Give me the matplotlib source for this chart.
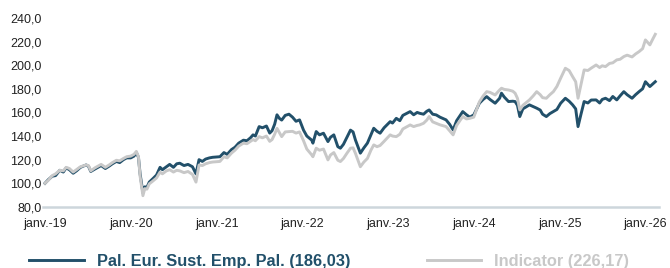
import matplotlib
matplotlib.use("Agg")
import matplotlib.pyplot as plt
import pandas as pd

plt.rcParams['font.family'] = ['Liberation Sans', 'DejaVu Sans']

FUND_NAME = "Pal. Eur. Sust. Emp. Pal. (186,03)"
INDEX_NAME = "Indicator (226,17)"
FUND_COLOR = "#22506a"
INDEX_COLOR = "#c8c8c8"

dates = [
    "2019-01-01", "2019-01-15", "2019-02-01", "2019-02-15", "2019-03-05", "2019-03-20",
    "2019-04-01", "2019-04-15", "2019-05-01", "2019-05-15", "2019-06-01", "2019-06-25",
    "2019-07-05", "2019-07-15", "2019-08-01", "2019-08-28", "2019-09-15", "2019-10-01",
    "2019-10-15", "2019-11-01", "2019-11-15", "2019-12-01", "2019-12-15", "2020-01-01",
    "2020-01-15", "2020-01-25", "2020-02-03", "2020-02-10", "2020-02-22", "2020-03-01",
    "2020-03-10", "2020-03-20", "2020-04-05", "2020-04-20", "2020-05-05", "2020-05-15",
    "2020-06-01", "2020-06-15", "2020-07-01", "2020-07-15", "2020-07-28", "2020-08-15",
    "2020-09-01", "2020-09-20", "2020-10-05", "2020-10-18", "2020-11-01", "2020-11-15",
    "2020-12-01", "2020-12-15", "2021-01-15", "2021-02-01", "2021-02-15", "2021-03-05",
    "2021-03-20", "2021-04-05", "2021-04-25", "2021-05-10", "2021-05-25", "2021-06-05",
    "2021-06-15", "2021-07-01", "2021-07-15", "2021-08-01", "2021-08-15", "2021-08-25",
    "2021-09-05", "2021-09-15", "2021-09-25", "2021-10-05", "2021-10-20", "2021-11-05",
    "2021-11-20", "2021-12-05", "2021-12-20", "2022-01-06", "2022-01-20", "2022-02-10",
    "2022-02-15", "2022-03-01", "2022-03-15", "2022-04-01", "2022-04-20", "2022-05-01",
    "2022-05-15", "2022-06-01", "2022-06-12", "2022-06-25", "2022-07-10", "2022-07-25",
    "2022-08-05", "2022-08-15", "2022-09-05", "2022-09-20", "2022-10-05", "2022-10-20",
    "2022-11-01", "2022-11-15", "2022-11-28", "2022-12-15", "2023-01-10", "2023-01-20",
    "2023-02-05", "2023-02-20", "2023-03-05", "2023-04-05", "2023-04-20", "2023-05-05",
    "2023-05-15", "2023-06-01", "2023-06-15", "2023-06-25", "2023-07-10", "2023-07-25",
    "2023-08-10", "2023-09-05", "2023-09-20", "2023-10-05", "2023-10-20", "2023-11-15",
    "2023-12-01", "2023-12-15", "2024-01-01", "2024-01-25", "2024-02-10", "2024-02-25",
    "2024-03-10", "2024-04-01", "2024-04-20", "2024-04-28", "2024-05-10", "2024-05-28",
    "2024-06-15", "2024-06-25", "2024-07-05", "2024-07-15", "2024-07-28", "2024-08-25",
    "2024-09-10", "2024-09-25", "2024-10-10", "2024-10-20", "2024-11-05", "2024-11-20",
    "2024-12-05", "2024-12-20", "2025-01-05", "2025-01-25", "2025-02-10", "2025-02-25",
    "2025-03-10", "2025-03-20", "2025-04-01", "2025-04-15", "2025-05-01", "2025-05-15",
    "2025-06-05", "2025-06-20", "2025-07-01", "2025-07-15", "2025-08-01", "2025-08-15",
    "2025-09-01", "2025-09-15", "2025-10-01", "2025-10-15", "2025-11-05", "2025-11-20",
    "2025-12-05", "2025-12-20", "2026-01-01", "2026-01-20", "2026-02-01", "2026-02-12",
]

fund = [
    100.0, 103.0, 106.0, 106.5, 111.0, 109.5,
    113.0, 111.5, 108.5, 110.5, 113.5, 115.5,
    114.5, 110.0, 112.0, 115.0, 112.5, 114.5,
    116.5, 118.5, 117.5, 120.0, 121.5, 121.5,
    123.0, 126.0, 122.0, 108.0, 92.0, 97.0,
    96.5, 101.0, 104.0, 107.0, 113.5, 111.5,
    114.0, 116.0, 113.5, 116.5, 117.0, 115.0,
    116.0, 114.0, 108.0, 120.0, 118.5, 120.5,
    121.5, 122.0, 122.5, 126.0, 124.5, 128.5,
    130.5, 134.0, 136.5, 136.0, 138.5, 141.0,
    140.0, 148.0, 147.0, 148.5, 142.5, 144.5,
    150.0, 158.0, 155.0, 153.5, 157.5, 158.5,
    156.0, 152.5, 153.7, 145.0, 140.0, 136.5,
    134.0, 143.8, 141.0, 142.4, 135.3, 139.0,
    141.0, 131.0, 129.7, 133.0, 139.0, 145.0,
    143.5, 136.7, 125.5, 130.0, 134.0, 141.0,
    146.6, 144.0, 142.4, 147.0, 152.2, 151.0,
    155.0, 153.0, 157.5, 160.7, 158.0, 160.0,
    159.3, 158.5, 161.0, 162.1, 158.5, 157.9,
    156.0, 153.7, 150.0, 145.2, 153.0, 160.7,
    158.0, 156.0, 157.9, 167.8, 171.0, 173.4,
    171.0, 167.8, 172.0, 176.3, 173.0, 169.2,
    169.5, 169.2, 166.0, 156.5, 163.0, 166.4,
    165.0, 163.6, 162.0, 158.5, 156.5, 159.0,
    160.7, 162.5, 167.8, 172.0, 169.5, 166.4,
    163.0, 148.0, 158.0, 169.2, 168.0, 170.5,
    170.6, 168.0, 171.0, 172.0, 170.0, 173.5,
    170.6, 174.0, 177.6, 175.0, 172.0, 175.0,
    177.6, 180.0, 186.0, 181.9, 184.0, 186.03,
]

indicator = [
    100.0, 102.5, 106.5, 108.0, 111.0, 110.5,
    113.5, 112.5, 109.5, 111.5, 114.0, 115.5,
    115.0, 110.5, 113.0, 116.0, 113.5, 115.5,
    117.5, 119.5, 119.0, 121.0, 122.5, 123.0,
    124.5, 127.0, 122.5, 106.0, 89.5, 95.5,
    95.0, 99.5, 102.0, 104.5, 109.5, 108.0,
    110.5, 111.5, 109.5, 111.0, 110.5, 109.0,
    110.0, 107.5, 101.0, 115.5, 115.0, 116.5,
    117.5, 118.0, 118.5, 122.5, 121.5, 125.5,
    128.0, 131.5, 134.0, 133.5, 135.5, 137.0,
    136.0, 139.5, 138.5, 140.0, 135.5, 137.0,
    141.5, 146.5, 143.0, 139.5, 143.5, 143.8,
    144.0, 142.5, 143.5, 136.0, 129.0, 124.0,
    122.5, 129.7, 128.0, 129.0, 119.8, 124.0,
    126.0, 119.5, 118.4, 121.0, 125.5, 129.7,
    130.0, 125.4, 114.0, 118.0, 121.0, 128.0,
    132.5, 131.0, 132.0, 135.5, 141.0, 140.0,
    139.5, 141.5, 146.0, 149.4, 148.0, 149.0,
    149.4, 150.8, 153.5, 156.5, 152.0, 150.8,
    149.5, 148.0, 144.5, 141.0, 149.0, 156.5,
    154.5, 155.0, 156.0, 169.0, 174.0, 177.6,
    177.0, 174.8, 179.0, 180.5, 179.5, 179.0,
    178.0, 176.3, 172.0, 162.1, 166.0, 170.6,
    174.0, 177.6, 175.0, 172.5, 172.0, 175.0,
    177.6, 182.0, 189.0, 197.4, 195.5, 190.3,
    186.0, 172.0, 183.0, 196.0, 195.5, 197.5,
    200.2, 198.0, 199.5, 198.8, 201.5, 202.0,
    204.5, 205.0, 207.3, 208.5, 207.0, 209.5,
    211.5, 214.0, 221.4, 217.2, 222.0, 226.17,
]

x_ticks = pd.date_range("2019-01-01", "2026-01-01", freq="YS")
x_labels = [f"janv.-{d.strftime('%y')}" for d in x_ticks]
y_ticks = [80, 100, 120, 140, 160, 180, 200, 220, 240]

df = pd.DataFrame({"date": pd.to_datetime(dates), "fund": fund, "indicator": indicator})

fig = plt.figure(figsize=(6.7, 2.68), dpi=100)
ax = fig.add_axes([0.064, 0.228, 0.92, 0.705])

# indicateur dessiné par-dessus (comme sur l'original)
ax.plot(df["date"], df["fund"], color=FUND_COLOR, lw=2.1, label=FUND_NAME, zorder=1)
ax.plot(df["date"], df["indicator"], color=INDEX_COLOR, lw=2.1, label=INDEX_NAME, zorder=2)

ax.set_xlim(pd.Timestamp("2018-12-23"), pd.Timestamp("2026-03-01"))
ax.set_ylim(80, 240)
ax.set_yticks(y_ticks)
ax.set_yticklabels([f"{v:.1f}".replace(".", ",") for v in y_ticks])
ax.set_xticks(x_ticks)
ax.set_xticklabels(x_labels)
ax.tick_params(axis="both", length=0, labelsize=9, colors="#222222")
ax.tick_params(axis="y", pad=1)
ax.tick_params(axis="x", pad=8)

for side in ["top", "right", "left"]:
    ax.spines[side].set_visible(False)
ax.spines["bottom"].set_color("#cdd6dc")
ax.spines["bottom"].set_linewidth(1.8)

fig.legend(loc="center left", bbox_to_anchor=(0.022, 0.025), ncol=2, frameon=False,
           handlelength=3.3, handletextpad=0.8, columnspacing=4.7,
           prop={"weight": "bold", "size": 11.8}, labelcolor="linecolor")

fig.savefig("out.png", dpi=100)
